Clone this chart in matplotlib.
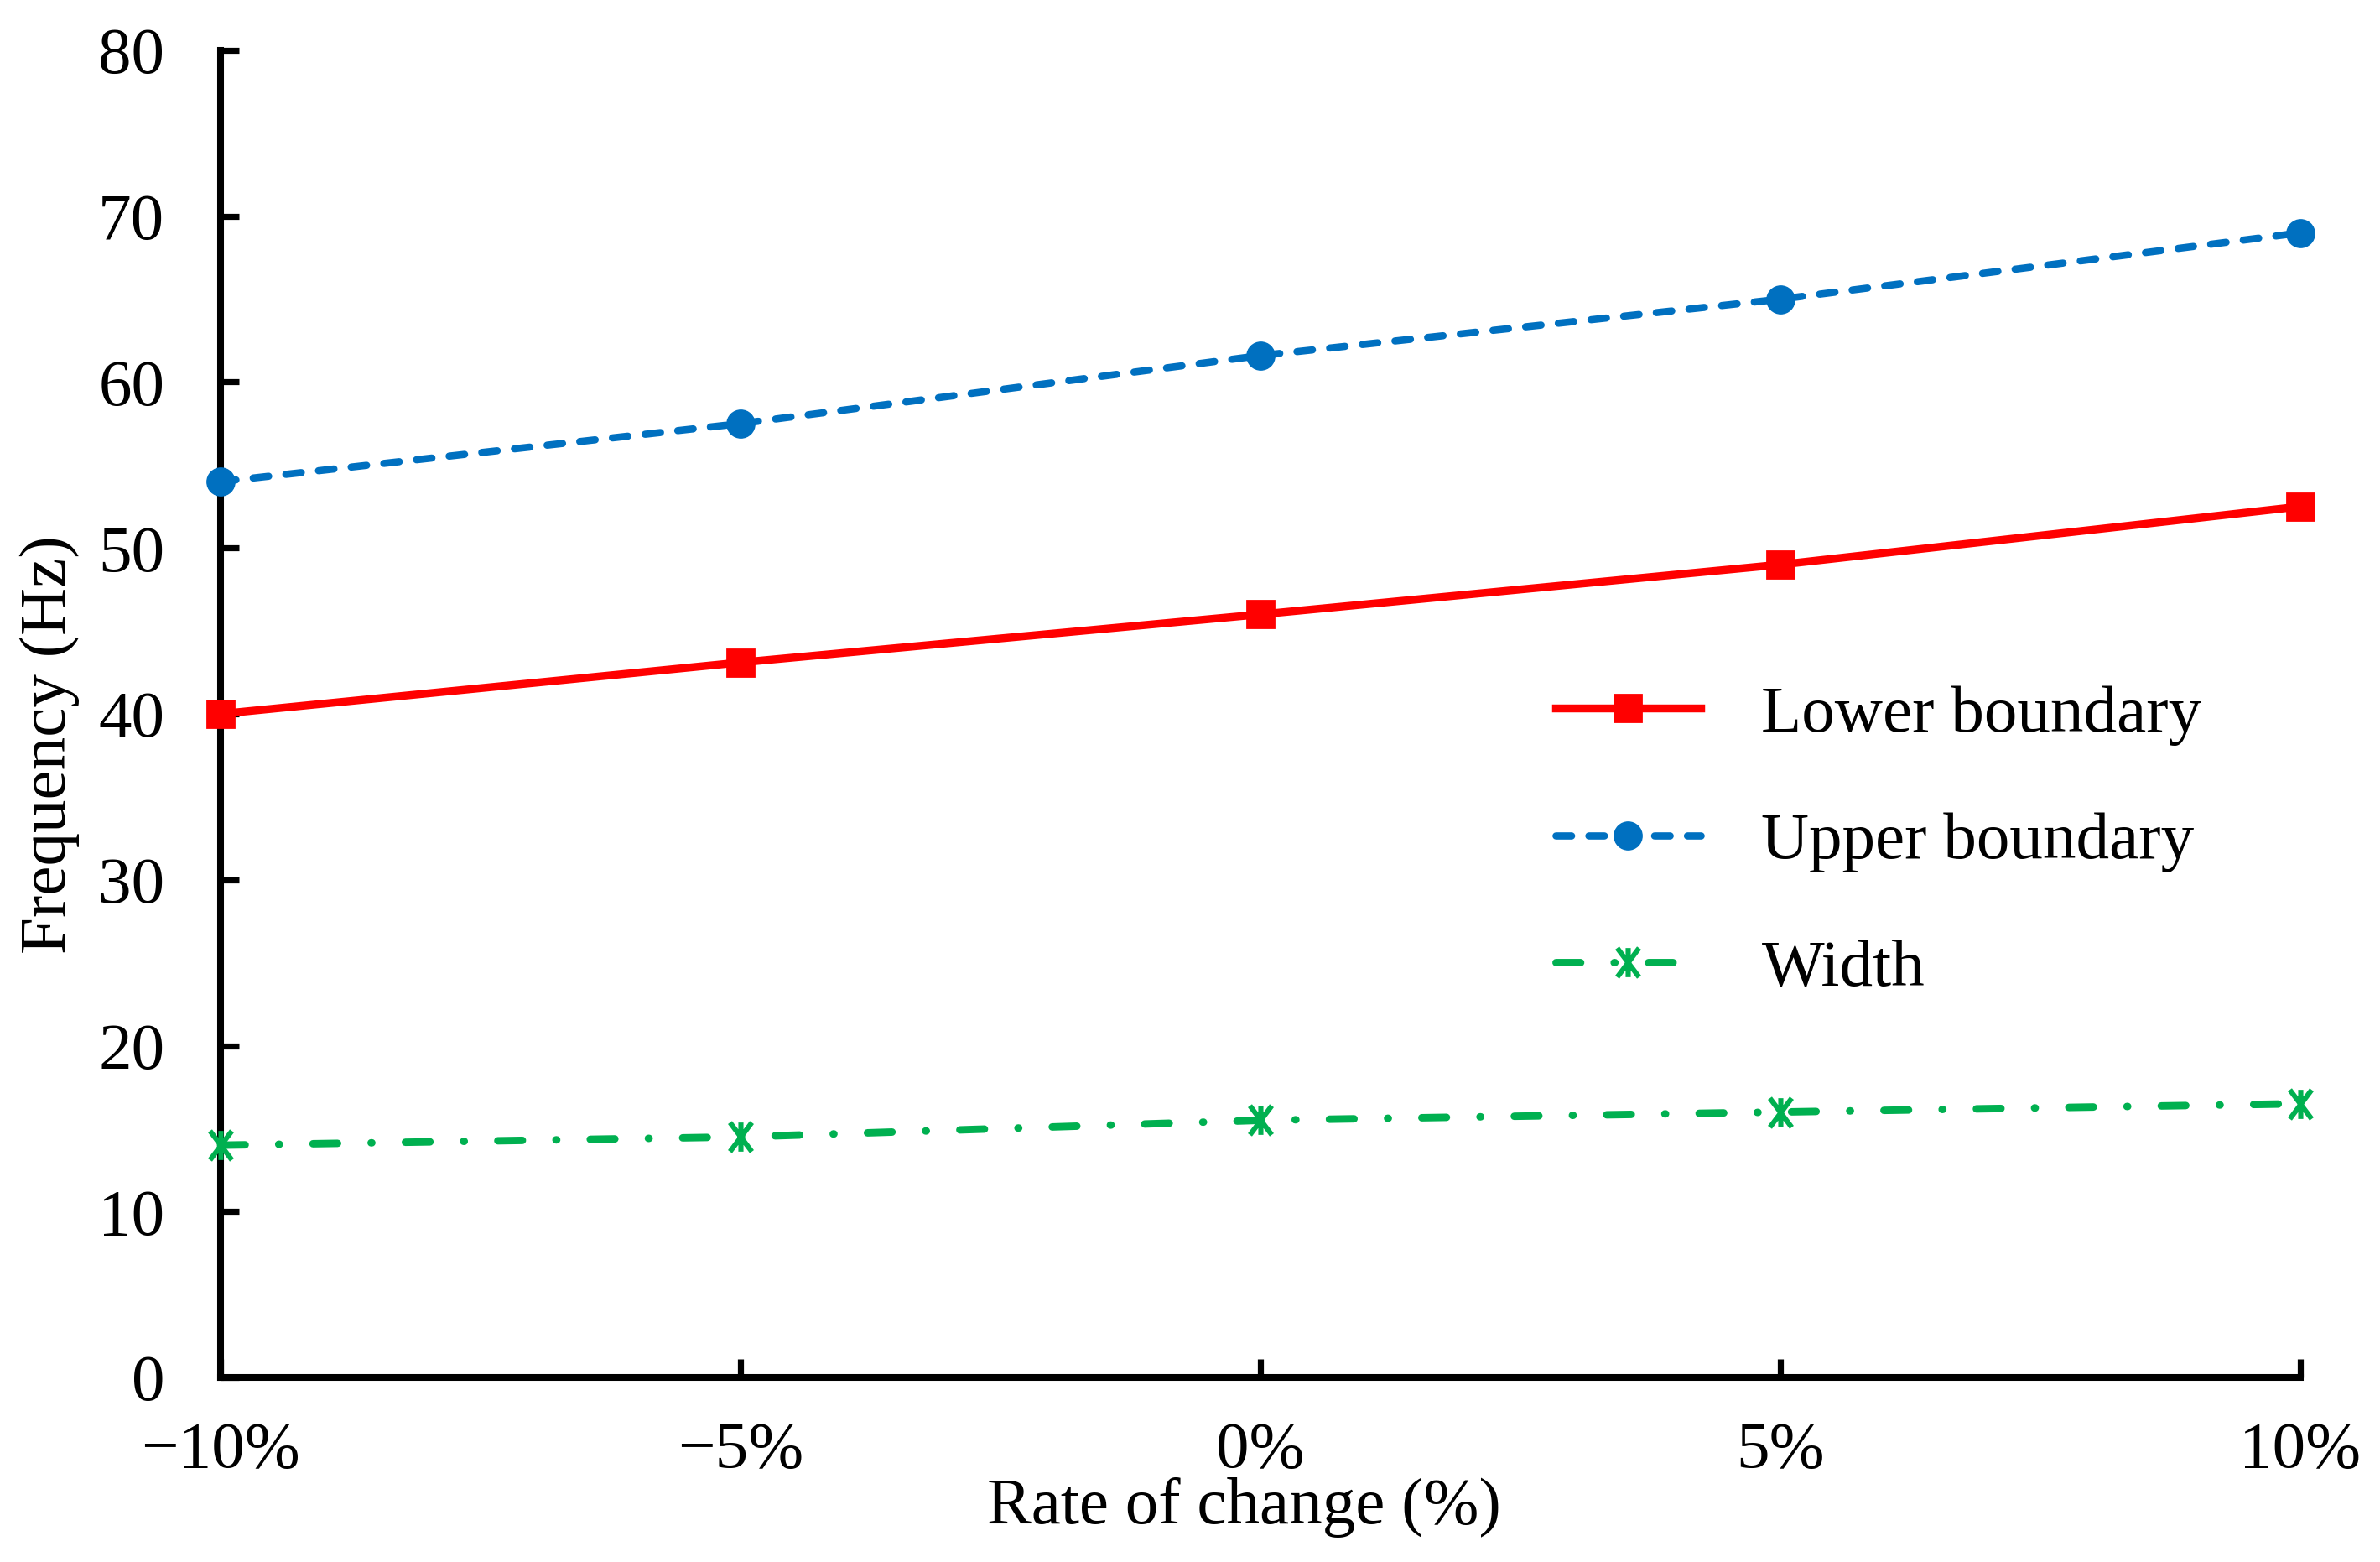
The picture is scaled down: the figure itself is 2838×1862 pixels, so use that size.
import matplotlib
matplotlib.use("Agg")
import matplotlib.pyplot as plt
from matplotlib.path import Path
from matplotlib.ticker import FixedLocator

plt.rcParams['font.family'] = ['Liberation Serif', 'DejaVu Serif']

rates = [-10, -5, 0, 5, 10]
rate_labels = ['\u221210%', '\u22125%', '0%', '5%', '10%']
lower = [40.0, 43.1, 46.0, 49.0, 52.5]
upper = [54.0, 57.5, 61.6, 65.0, 69.0]
width = [14.0, 14.5, 15.5, 16.0, 16.5]
y_ticks = [0, 10, 20, 30, 40, 50, 60, 70, 80]

star = Path([(0, -1), (0, 1), (-0.75, -1), (0.75, 1), (-0.75, 1), (0.75, -1)],
            [Path.MOVETO, Path.LINETO, Path.MOVETO, Path.LINETO, Path.MOVETO, Path.LINETO])

FS = 28.5
fig = plt.figure(figsize=(14.19, 9.31), dpi=200)
ax = fig.add_axes([263/2838, 1 - 1642/1862, (2743-263)/2838, (1642-60)/1862])

ax.plot(rates, lower, color='#FF0000', lw=3.4, marker='s', ms=11.5,
        mec='#FF0000', mfc='#FF0000', label='Lower boundary', zorder=3, clip_on=False)
ax.plot(rates, upper, color='#0070C0', lw=3.1, marker='o', ms=11.5,
        mec='#0070C0', mfc='#0070C0', label='Upper boundary', zorder=3, clip_on=False,
        dashes=(2.15, 2.4), dash_capstyle='round')
ax.plot(rates, width, color='#00B050', lw=3.2, marker=star, ms=12.5, mew=2.2,
        mec='#00B050', mfc='none', label='Width', zorder=3, clip_on=False,
        dashes=(3.3, 4.5, 0.1, 4.5), dash_capstyle='round')

ax.set_xlim(-10, 10)
ax.set_ylim(0, 80)
ax.xaxis.set_major_locator(FixedLocator(rates))
ax.set_xticklabels(rate_labels)
ax.set_yticks(y_ticks)

for s in ['top', 'right']:
    ax.spines[s].set_visible(False)
for s in ['left', 'bottom']:
    ax.spines[s].set_linewidth(2.9)
    ax.spines[s].set_capstyle('projecting')

ax.tick_params(direction='in', length=8, width=2.6, labelsize=FS, colors='black')
ax.tick_params(axis='y', pad=24)
ax.tick_params(axis='x', pad=19)

ax.set_ylabel('Frequency (Hz)', fontsize=FS, va='center')
ax.yaxis.set_label_coords(-0.082, 0.477)
ax.set_xlabel('Rate of change (%)', fontsize=FS, va='center')
ax.xaxis.set_label_coords(0.492, -0.098)

leg = ax.legend(loc='center left', bbox_to_anchor=(1855/2838, 1 - 1004/1862),
                bbox_transform=fig.transFigure, frameon=False, fontsize=FS,
                handlelength=2.18, handletextpad=0.92, labelspacing=1.0,
                borderpad=0, borderaxespad=0)

fig.savefig('out.png', dpi=200)
